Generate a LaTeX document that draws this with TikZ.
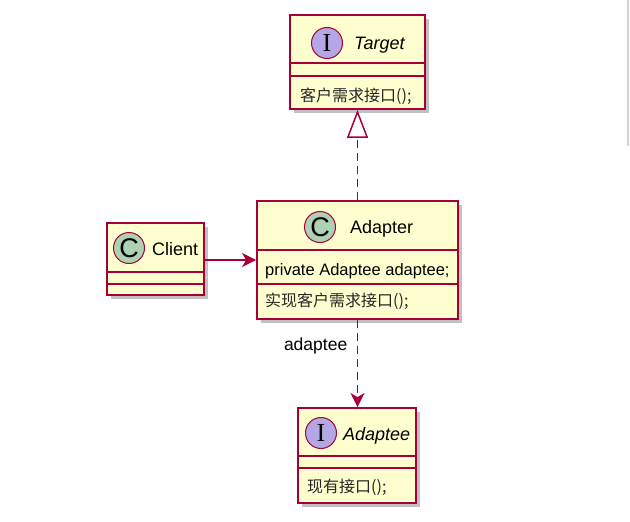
\documentclass[tikz,border=0pt]{standalone}
\usepackage{fontspec}
\setmainfont{Liberation Sans}
\newfontfamily\cjk{Noto Sans CJK SC}
\newfontfamily\spotsans{Liberation Sans}
\newfontfamily\spotserif{Liberation Serif}
\usetikzlibrary{arrows.meta,shadows}
\definecolor{umlred}{HTML}{A80036}
\definecolor{umlfill}{HTML}{FEFECE}
\definecolor{spotc}{HTML}{ADD1B2}
\definecolor{spoti}{HTML}{B4A7E5}
\tikzset{
  umlbox/.style={draw=umlred, fill=umlfill, line width=1.8pt, rectangle, inner sep=0pt,
    drop shadow={shadow xshift=4pt, shadow yshift=-4pt, fill=black!30, opacity=0.8}},
  sepline/.style={draw=umlred, line width=1.6pt},
  spot/.style={circle, draw=umlred, line width=1pt, inner sep=0pt, minimum size=31pt},
  namefont/.style={font=\fontsize{18}{20}\selectfont, inner sep=0pt},
  attrfont/.style={font=\fontsize{16.5}{19}\selectfont, inner sep=0pt},
  cjkfont/.style={font=\cjk\fontsize{16}{18}\selectfont, inner sep=0pt, text=black!85},
  conn/.style={draw=umlred, line width=1.5pt},
  depline/.style={draw=umlred, line width=1.8pt, dash pattern=on 8pt off 5pt},
}
\begin{document}
\begin{tikzpicture}[x=1pt,y=-1pt]
\useasboundingbox[fill=white] (0,0) rectangle (630,522);
\draw[black!18, line width=1.2pt] (628,0) -- (628,146);

% Target
\node[umlbox, minimum width=135pt, minimum height=94pt] (target) at (357.5,62) {};
\draw[sepline] (target.west |- 0,63) -- (target.east |- 0,63);
\draw[sepline] (target.west |- 0,76) -- (target.east |- 0,76);
\node[spot, fill=spoti, font=\spotserif\fontsize{26}{26}\selectfont] (targetspot) at (327,43) {I};
\node[namefont, anchor=base west] (targetname) at (354,49) {\itshape Target};
\node[cjkfont, anchor=west] (targetop) at (300,96) {客户需求接口();};

% Adapter
\node[umlbox, minimum width=201pt, minimum height=118pt] (adapter) at (357.5,260) {};
\draw[sepline] (adapter.west |- 0,250) -- (adapter.east |- 0,250);
\draw[sepline] (adapter.west |- 0,284) -- (adapter.east |- 0,284);
\node[spot, fill=spotc, font=\spotsans\fontsize{27}{27}\selectfont] (adapterspot) at (320,227) {C};
\node[namefont, anchor=base west] (adaptername) at (350,233) {Adapter};
\node[attrfont, anchor=base west] (adapterattr) at (265,275) {private Adaptee adaptee;};
\node[cjkfont, anchor=west] (adapterop) at (265,301) {实现客户需求接口();};

% Client
\node[umlbox, minimum width=97pt, minimum height=72pt] (client) at (155.5,259) {};
\draw[sepline] (client.west |- 0,272) -- (client.east |- 0,272);
\draw[sepline] (client.west |- 0,284) -- (client.east |- 0,284);
\node[spot, fill=spotc, font=\spotsans\fontsize{27}{27}\selectfont] (clientspot) at (129,248) {C};
\node[namefont, anchor=base west] (clientname) at (152,255) {Client};

% Adaptee
\node[umlbox, minimum width=118pt, minimum height=95pt] (adaptee) at (357,455.5) {};
\draw[sepline] (adaptee.west |- 0,456) -- (adaptee.east |- 0,456);
\draw[sepline] (adaptee.west |- 0,468) -- (adaptee.east |- 0,468);
\node[spot, fill=spoti, font=\spotserif\fontsize{26}{26}\selectfont] (adapteespot) at (321,433) {I};
\node[namefont, anchor=base west] (adapteename) at (343,440) {\itshape Adaptee};
\node[cjkfont, anchor=west] (adapteeop) at (307,487) {现有接口();};

% connectors
\draw[conn, -{Stealth[length=14pt,width=14pt,inset=4pt]}] (client.east |- 0,260) -- (adapter.west |- 0,260);
\draw[depline, -{Triangle[open,length=28pt,width=21pt,fill=white,line width=1.5pt]}]
  (adapter.north) -- (adapter.north |- target.south);
\draw[depline, -{Stealth[length=14pt,width=14pt,inset=4pt]}]
  (adapter.south) -- (adapter.south |- adaptee.north)
  node[pos=0.3, left=6pt, font=\fontsize{17.5}{19}\selectfont, text=black] (deplabel) {adaptee};
\end{tikzpicture}
\end{document}
